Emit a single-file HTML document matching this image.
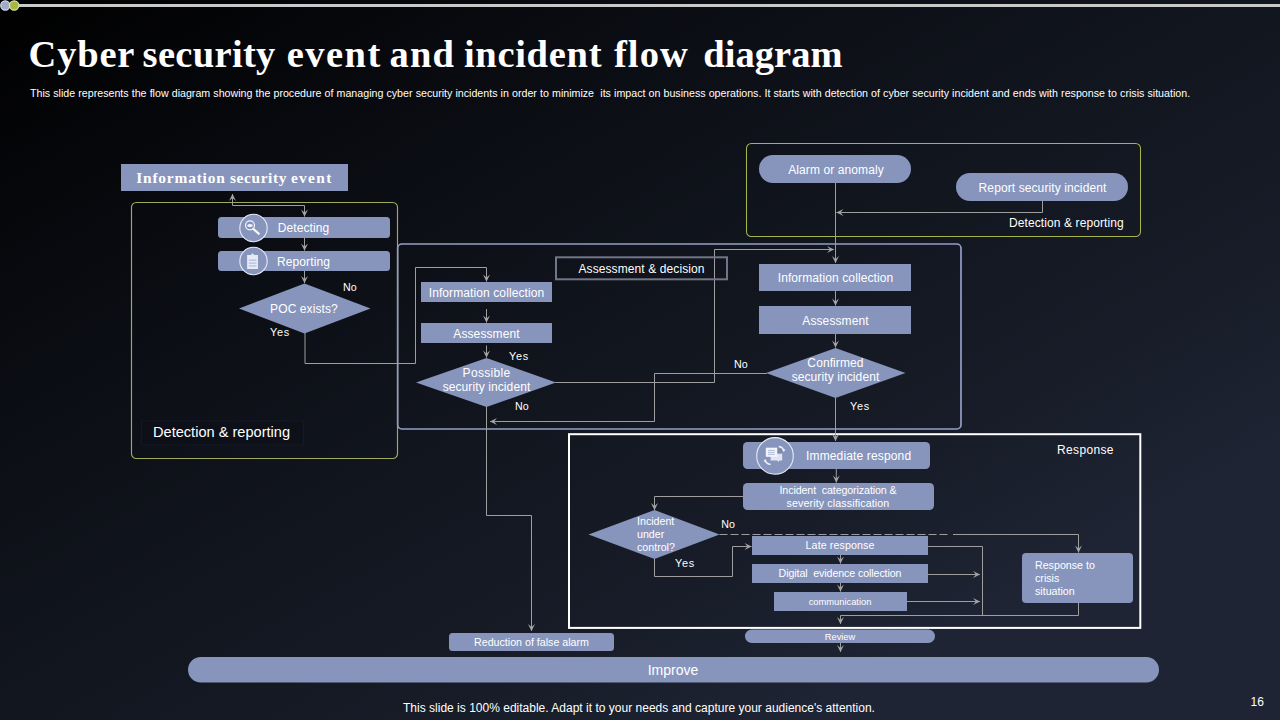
<!DOCTYPE html>
<html lang="en">
<head>
<meta charset="utf-8">
<title>Cyber security event and incident flow diagram</title>
<style>
  html, body { margin: 0; padding: 0; }
  body { width: 1280px; height: 720px; overflow: hidden; background: #12161f; font-family: "Liberation Sans", sans-serif; }
  #slide { position: relative; width: 1280px; height: 720px; overflow: hidden;
    background: linear-gradient(to bottom right, #000000 0%, #0a0c12 25%, #12161f 50%, #171c28 67%, #1f2434 81%, #1f2434 100%); }
  svg { position: absolute; left: 0; top: 0; }
  text { font-family: "Liberation Sans", sans-serif; fill: #ffffff; white-space: pre; }
  .serif { font-family: "Liberation Serif", serif; font-weight: 700; }
  .box { fill: #8795bd; }
  .ln { fill: none; stroke: #9e9e9e; stroke-width: 1; }
  .c { text-anchor: middle; }
  .f12 { font-size: 12px; letter-spacing: 0.1px; }
  .yes { font-size: 10.9px; letter-spacing: 0.75px; }
  .f11 { font-size: 10.67px; }
  .f9 { font-size: 9.33px; }
</style>
</head>
<body>
<div id="slide">
<svg width="1280" height="720" viewBox="0 0 1280 720">
  <defs>
    <marker id="ah" viewBox="0 0 10 10" refX="9.500" refY="5" markerWidth="7.600" markerHeight="7.600" markerUnits="userSpaceOnUse" orient="auto">
      <path d="M0.300,0.400 L9.700,5 L0.300,9.600 L4.200,5 Z" fill="#a4a4a4"/>
    </marker>
  </defs>

  <!-- top decoration -->
  <rect x="19" y="4" width="1261" height="3" fill="#c9c9c9"/>
  <circle cx="5.300" cy="5.500" r="4.600" fill="#a1abcc" stroke="#e1e5f2" stroke-width="1.100"/>
  <circle cx="14.200" cy="5.500" r="4.600" fill="#a7b63e" stroke="#e6ebb4" stroke-width="1.100"/>

  <!-- title -->
  <text class="serif" y="66.500" font-size="38.5"><tspan x="28.500" style="letter-spacing:0.83px">Cyber </tspan><tspan x="142.600" style="letter-spacing:0.33px">security </tspan><tspan x="286.700" style="letter-spacing:1.48px">event </tspan><tspan x="389.500" style="letter-spacing:1.2px">and </tspan><tspan x="463.900" style="letter-spacing:0.71px">incident </tspan><tspan x="613.900" style="letter-spacing:1.13px">flow </tspan><tspan x="703.300" style="letter-spacing:0.03px">diagram</tspan></text>
  <text x="30" y="97" font-size="10.67" style="word-spacing:0.15px">This slide represents the flow diagram showing the procedure of managing cyber security incidents in order to minimize  its impact on business operations. It starts with detection of cyber security incident and ends with response to crisis situation.</text>

  <!-- group frames -->
  <rect x="397.700" y="244" width="563.300" height="185" rx="4.200" fill="none" stroke="#959ec6" stroke-width="1.700"/>
  <rect x="131.500" y="202.500" width="266" height="256" rx="4.800" fill="none" stroke="#a2a95c" stroke-width="1.150"/>
  <rect x="746.500" y="143.500" width="394" height="93" rx="4.800" fill="none" stroke="#a6b348" stroke-width="1.050"/>
  <rect x="569" y="434.200" width="571.300" height="193.700" fill="none" stroke="#ffffff" stroke-width="2"/>

  <!-- connectors -->
  <g class="ln">
    <!-- info security event <-> detecting -->
    <path d="M304.5,205.500 L304.5,216.5" marker-end="url(#ah)"/>
    <path d="M304.5,205.5 L232.5,205.5 L232.5,194" marker-end="url(#ah)"/>
    <path d="M304.5,238 L304.5,250.5" marker-end="url(#ah)"/>
    <path d="M304.5,271 L304.5,283" marker-end="url(#ah)"/>
    <!-- POC -> info collection -->
    <path d="M305,333 L305,363.500 L415.5,363.500 L415.5,267.500 L486.5,267.500 L486.5,281.500" marker-end="url(#ah)"/>
    <path d="M486.5,309 L486.5,322.500" marker-end="url(#ah)"/>
    <path d="M486.5,345.500 L486.5,357.500" marker-end="url(#ah)"/>
    <!-- possible -> right info collection -->
    <path d="M555,382.500 L714.500,382.500 L714.500,249.500 L834,249.500" marker-end="url(#ah)"/>
    <!-- confirmed No -> back -->
    <path d="M767,373.500 L654.500,373.500 L654.500,421.500 L490,421.500" marker-end="url(#ah)"/>
    <!-- possible No -> reduction of false alarm -->
    <path d="M486.500,407 L486.500,515.500 L531.500,515.500 L531.500,631" marker-end="url(#ah)"/>
    <!-- alarm -> info collection -->
    <path d="M835.500,183 L835.500,263" marker-end="url(#ah)"/>
    <path d="M1042.500,201 L1042.500,212.500 L836.500,212.500" marker-end="url(#ah)"/>
    <path d="M835.500,291 L835.500,305.500" marker-end="url(#ah)"/>
    <path d="M835.500,334 L835.500,347.500" marker-end="url(#ah)"/>
    <path d="M835.500,398 L835.500,441" marker-end="url(#ah)"/>
    <path d="M836.300,469 L836.300,482.500" marker-end="url(#ah)"/>
    <!-- categorization -> under control -->
    <path d="M743,496.500 L654.500,496.500 L654.500,510" marker-end="url(#ah)"/>
    <!-- under control No (dashed) -->
    <path d="M719.500,534.500 L948,534.500" stroke-dasharray="8 3"/>
    <path d="M953,534.500 L1078.500,534.500 L1078.500,552.500" marker-end="url(#ah)"/>
    <!-- under control yes -->
    <path d="M654.500,559 L654.500,576.500 L732.500,576.500 L732.500,546.500 L751.500,546.500" marker-end="url(#ah)"/>
    <path d="M840.500,555 L840.500,563.500" marker-end="url(#ah)"/>
    <path d="M840.500,583 L840.500,591.500" marker-end="url(#ah)"/>
    <path d="M928,546.500 L982.500,546.500 L982.500,615.500"/>
    <path d="M928,574.500 L980,574.500" marker-end="url(#ah)"/>
    <path d="M907,601.500 L980,601.500" marker-end="url(#ah)"/>
    <path d="M1078.500,603 L1078.500,615.500 L840.500,615.500 L840.500,624" marker-end="url(#ah)"/>
    <path d="M840.500,643 L840.500,652" marker-end="url(#ah)"/>
  </g>

  <!-- assessment & decision label box -->
  <rect x="556" y="257.300" width="171" height="22" fill="none" stroke="#727587" stroke-width="2"/>
  <text class="c f12" x="641.500" y="272.500">Assessment &amp; decision</text>

  <!-- left column -->
  <rect class="box" x="121" y="164" width="227" height="27"/>
  <text class="serif" y="183.200" font-size="15.4"><tspan x="136.2" style="letter-spacing:0.82px">Information </tspan><tspan x="230.0" style="letter-spacing:0.61px">security </tspan><tspan x="290.9" style="letter-spacing:1.35px">event</tspan></text>

  <rect class="box" x="218" y="217" width="172" height="21" rx="3.5"/>
  <text class="c f12" x="303.500" y="231.800">Detecting</text>
  <rect class="box" x="218" y="251" width="172" height="20" rx="3.5"/>
  <text class="c f12" x="303.500" y="265.500">Reporting</text>

  <polygon class="box" points="304.500,283.500 370.500,308.500 304.500,333.500 239,308.500"/>
  <text class="c f12" x="304" y="312.800">POC exists?</text>
  <text class="f11" x="343" y="291">No</text>
  <text class="yes" x="270" y="336">Yes</text>

  <rect x="141.500" y="421" width="162" height="24" fill="#0c0f17" fill-opacity="0.35" stroke="#2a3048" stroke-opacity="0.25" stroke-width="1"/>
  <text x="153" y="436.500" font-size="14.600">Detection &amp; reporting</text>

  <!-- icons left -->
  <circle cx="253.500" cy="228" r="13.700" fill="#8795bd" stroke="#e8ebf7" stroke-width="1.100"/>
  <circle cx="253.500" cy="261" r="13.700" fill="#8795bd" stroke="#e8ebf7" stroke-width="1.100"/>
  <g id="icon-detect" fill="none" stroke="#f2f4fb">
    <circle cx="250" cy="225.300" r="4.500" stroke-width="1.200"/>
    <path d="M253.300,228.900 L258.700,233.700" stroke-width="2.300" stroke-linecap="round"/>
    <ellipse cx="250" cy="225.600" rx="2.800" ry="1.500" fill="#f2f4fb" stroke="none"/>
  </g>
  <g id="icon-report">
    <path d="M247.100,255 h3.600 l1.800,-1.700 l1.800,1.700 h3.700 v14 h-10.900 z" fill="#e6e9f6"/>
    <g fill="#aab4d6">
      <rect x="248.800" y="259.600" width="7.600" height="1.100"/>
      <rect x="248.800" y="262.600" width="7.600" height="1"/>
      <rect x="248.800" y="265.400" width="7.600" height="1"/>
    </g>
  </g>

  <!-- middle column -->
  <rect class="box" x="421" y="282" width="131" height="20"/>
  <text class="c f12" x="486.500" y="296.500">Information collection</text>
  <rect class="box" x="421" y="323" width="131" height="20"/>
  <text class="c f12" x="486.500" y="337.500">Assessment</text>
  <polygon class="box" points="486.500,358 556,382.500 486.500,407 416,382.500"/>
  <text class="c f12" x="486.500" y="377" style="letter-spacing:0.3px">Possible</text>
  <text class="c f12" x="486.500" y="391">security incident</text>
  <text class="yes" x="509" y="360">Yes</text>
  <text class="f11" x="515" y="410">No</text>

  <!-- right column -->
  <rect class="box" x="759" y="155" width="152" height="28" rx="14"/>
  <text class="c f12" x="836" y="173.500">Alarm or anomaly</text>
  <rect class="box" x="956" y="173" width="172" height="28" rx="14"/>
  <text class="c f12" x="1042.500" y="191.500">Report security incident</text>
  <text class="f12" x="1009" y="226.500">Detection &amp; reporting</text>

  <rect class="box" x="759" y="264" width="152" height="27"/>
  <text class="c f12" x="835.500" y="281.800">Information collection</text>
  <rect class="box" x="759" y="306" width="152" height="28"/>
  <text class="c f12" x="835.500" y="324.500">Assessment</text>
  <polygon class="box" points="835.500,348 905.500,373 835.500,398 766,373"/>
  <text class="c f12" x="835.500" y="367">Confirmed</text>
  <text class="c f12" x="835.500" y="381">security incident</text>
  <text class="f11" x="734" y="368">No</text>
  <text class="yes" x="850" y="410">Yes</text>

  <!-- response -->
  <text class="f12" x="1057" y="454" style="letter-spacing:0.35px">Response</text>
  <rect class="box" x="743" y="442" width="187" height="27" rx="4.500"/>
  <text class="f12" x="806" y="460" style="letter-spacing:0.15px">Immediate respond</text>
  <circle cx="775" cy="455.900" r="18.300" fill="#8795bd" stroke="#e8ebf7" stroke-width="1.100"/>
  <g id="icon-respond">
    <rect x="777.500" y="448.600" width="4.600" height="4.200" fill="#7f88a3"/>
    <path d="M770.600,453.800 h11.600 v6.600 h-2.600 l-1.500,1.500 l-0.600,-1.500 h-6.900 z" fill="#dfe3f3"/>
    <rect x="765.800" y="447.700" width="11.400" height="9.100" fill="#f4f5fb"/>
    <rect x="768" y="449.900" width="6.800" height="0.900" fill="#a9b3d4"/>
    <rect x="768" y="451.900" width="6.800" height="0.900" fill="#a9b3d4"/>
    <rect x="768" y="453.900" width="6.800" height="0.900" fill="#a9b3d4"/>
    <path d="M778.800,446.500 q4.200,0.800 5,4.200" fill="none" stroke="#f0f2fa" stroke-width="1.300"/>
    <path d="M782,449.800 l1.900,2.300 l1.500,-2.800 z" fill="#f0f2fa"/>
    <path d="M770.700,464.400 q-4.600,-0.500 -5.500,-3.900" fill="none" stroke="#f0f2fa" stroke-width="1.300"/>
    <path d="M763.600,461.500 l1.300,-2.600 l2,2.400 z" fill="#f0f2fa"/>
  </g>

  <rect class="box" x="743" y="483" width="191" height="27" rx="4.500"/>
  <text class="c f11" x="838" y="493.700" style="letter-spacing:-0.1px">Incident  categorization &amp;</text>
  <text class="c f11" x="838" y="506.700" style="letter-spacing:0.12px">severity classification</text>

  <polygon class="box" points="654.500,510 719.500,534.500 654.500,559 588.500,534.500"/>
  <text class="f11" x="637" y="525">Incident</text>
  <text class="f11" x="637" y="538">under</text>
  <text class="f11" x="637" y="551">control?</text>
  <text class="f11" x="721.300" y="528">No</text>
  <text class="yes" x="675" y="566.700">Yes</text>

  <rect class="box" x="752" y="536" width="176" height="19"/>
  <text class="c f11" x="840" y="548.700" style="letter-spacing:0.1px">Late response</text>
  <rect class="box" x="752" y="564" width="176" height="19"/>
  <text class="c f11" x="840" y="576.700" style="letter-spacing:-0.1px">Digital  evidence collection</text>
  <rect class="box" x="774" y="592" width="133" height="19"/>
  <text class="c f9" x="840" y="605">communication</text>

  <rect class="box" x="1022" y="553" width="111" height="50" rx="4"/>
  <text class="f11" x="1035" y="568.700">Response to</text>
  <text class="f11" x="1035" y="581.700">crisis</text>
  <text class="f11" x="1035" y="594.700">situation</text>

  <rect class="box" x="745" y="629.500" width="190" height="13.500" rx="6.750"/>
  <text class="c f9" x="840" y="639.800">Review</text>

  <rect class="box" x="449" y="633" width="165" height="18" rx="3.500"/>
  <text class="c f11" x="531.500" y="645.800">Reduction of false alarm</text>

  <rect class="box" x="188" y="657" width="971" height="25.500" rx="12.750"/>
  <text class="c" x="673" y="675" font-size="14">Improve</text>

  <!-- footer -->
  <text class="f12" x="403" y="712" style="letter-spacing:0px;word-spacing:0.05px">This slide is 100% editable. Adapt it to your needs and capture your audience's attention.</text>
  <text class="f12" x="1250.500" y="706">16</text>
</svg>
</div>
</body>
</html>
